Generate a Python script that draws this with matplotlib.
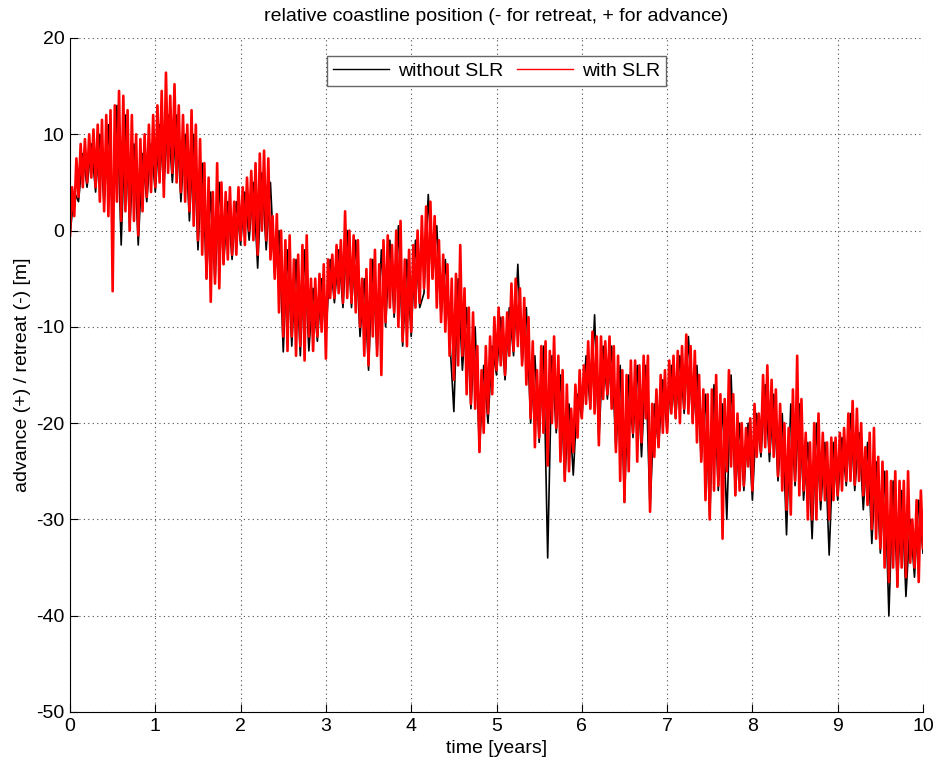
import numpy as np
import matplotlib.pyplot as plt

plt.rcParams['font.family'] = ['Liberation Sans', 'DejaVu Sans']
plt.rcParams['axes.unicode_minus'] = False

# coastline position with sea level rise, sampled every 0.025 years
with_slr = [
    -0.5, 4.5, 1.5, 7.5, 3.5, 9, 4.5, 9.5, 5, 10, 5.5, 10.5, 4.5, 11, 3, 11.5, 2, 12, 1.5, 12.5,
    -6.3, 13, 3, 14.5, 1, 14, 2, 12.5, 0, 12, 1, 10, -0.5, 9.5, 2, 10, 3.5, 11, 4, 12,
    4.5, 13, 5, 14.5, 3.5, 16.4, 6, 14, 6, 15.2, 5, 13, 4, 12, 3, 11, 2, 12.5, 0.5, 11,
    -1, 9.5, -2.5, 7, -5, 5.5, -7.4, 4, -5.5, 7, -6, 5, -3.5, 4, -3, 4.5, -2.5, 3, -2.5, 4.5,
    -1, 4.5, -1.5, 5.5, 0, 6.2, -1, 7, -2.5, 8, 0, 8.3, -1, 7.5, -3, 1.5, -5, 1.7, -8.5, 0,
    -11, -1, -12.5, -0.5, -11, -3, -13, -2.5, -12, -1.5, -13.5, -0.5, -11, -5, -12.5, -5, -11, -4.5, -10.5, -3.5,
    -13.3, -3, -7, -2.5, -7, -1.5, -6.5, -1, -7.5, 2, -7, 0, -7.5, -0.5, -8.5, -1, -10, -5, -13, -4,
    -14, -3, -11, -2, -13, -3.5, -15, -1, -9.5, -0.5, -8, -1.5, -8.5, 0, -10, 1, -11.5, -3, -12, -2,
    -10.5, -1.5, -8, 0, -7.5, 1.5, -6, 2.5, -7, 3, -5, 1.5, -8, -1, -9.5, -2.5, -10.5, -3.5, -13, -5,
    -15.5, -4.5, -14, -1.5, -13, -6, -17, -8, -18, -8.5, -18.5, -12, -23, -14.5, -21, -12, -19, -11, -17, -9,
    -14.5, -8, -14, -9, -15, -8.5, -13, -5.5, -12.5, -5, -12, -6, -14, -7, -16, -9, -19.5, -11.5, -22.5, -14.5,
    -21.5, -12, -21, -11.5, -24.4, -12.5, -20, -11, -20.5, -13, -24, -14.5, -26, -16, -25, -18.5, -23, -16, -21.5, -14.5,
    -19.5, -14, -18, -11.5, -18.5, -10.5, -19, -11, -22.3, -11, -17.5, -11.5, -17, -11, -18.5, -12, -23, -13, -26, -14.5,
    -28.2, -15, -25, -13.5, -21, -13.5, -24, -14, -22, -13, -19.5, -13, -29.2, -18, -23.5, -16.5, -22.5, -15, -21, -14.5,
    -21, -13.5, -19, -13, -19.5, -12.5, -20, -12, -18.5, -10.8, -19, -12, -20, -12.5, -22, -15, -24, -16.5, -28, -17,
    -30, -16.5, -27, -15, -26.5, -17, -32, -17.5, -25, -14.5, -24.5, -17, -27.5, -19, -27, -20, -26.5, -20.5, -24.5, -19.5,
    -27, -18, -23.5, -19, -23, -15, -22.5, -14, -23, -15.5, -23.5, -16.5, -25.5, -18, -27, -20, -29, -20.5, -29.5, -16.5,
    -26, -13, -27.5, -17.5, -27, -21, -30, -22, -30, -20, -30, -19, -28, -21, -28, -22, -30, -21.5, -28, -21.5,
    -27.5, -21, -27, -20.5, -26, -19, -26, -17.7, -26.4, -18.5, -26, -20, -27.5, -22.5, -28.5, -21, -31, -20.5, -32, -23.5,
    -33, -24, -35, -25, -36.5, -26, -35, -25, -37, -26, -35, -26, -36, -25, -34.5, -30, -35, -28, -36.5, -27,
    -33,
]

# coastline position without sea level rise, sampled every 0.05 years
without_slr = [
    -0.5, 4, 3, 8, 4.5, 9, 4, 10, 2.5, 11,
    1, 13, -1.5, 12, 0, 9, -1.5, 8, 3, 9,
    4, 11, 4.5, 12, 5, 12, 3, 10, 1, 10,
    -2, 7, -5, 4, -5.5, 5, -3.5, 3, -3, 3,
    -1.5, 4, -1, 5, -3.9, 6, -2, 5, -4.5, 0,
    -12.6, -2, -12, -3, -13, -2, -12.5, -6, -11.5, -5,
    -11, -3, -7.5, -2, -8, 0, -8, -1, -11, -5,
    -14.5, -3, -13, -2, -10, -1, -9, 0.5, -12, -3,
    -11, -1, -8, -6.5, 3.75, -5, 0.5, -9, -3, -11,
    -18.8, -5, -14.5, -8, -18.5, -10, -23, -14, -20, -12,
    -15, -9, -15.5, -8, -13, -3.5, -14, -8, -20, -13,
    -22, -12, -34, -13, -21, -15, -26, -18, -25.4, -17,
    -19.5, -13, -18.5, -8.75, -22, -12, -17.5, -12, -23, -14,
    -28.2, -15, -21.5, -14, -23.5, -14, -29.2, -18, -22.5, -15.5,
    -21, -14, -19.5, -13, -19, -11, -20, -14, -24, -17,
    -30, -16, -27, -18, -30, -15, -27.5, -20, -27, -20,
    -28, -19, -23.5, -16, -24, -17, -26, -19, -31.6, -18,
    -26.5, -18, -28, -22, -32, -20, -29, -22, -33.7, -22,
    -28, -21.5, -26.5, -19, -27, -21, -29, -22, -32.5, -24,
    -33.5, -25, -40, -26, -37, -27, -38, -30, -36, -28,
    -33.5,
]

t_with = np.linspace(0, 10, len(with_slr))
t_without = np.linspace(0, 10, len(without_slr))

fig = plt.figure(figsize=(9.39, 7.67), dpi=100)
ax = fig.add_axes([70 / 939, 55 / 767, 853 / 939, 674 / 767])

ax.plot(t_without, without_slr, color='black', lw=1.2, label='without SLR')
ax.plot(t_with, with_slr, color='red', lw=1.9, label='with SLR')

ax.set_xlim(0, 10)
ax.set_ylim(-50, 20)
ax.set_xticks(np.arange(0, 11, 1))
ax.set_yticks(np.arange(-50, 21, 10))
ax.grid(True, linestyle=(0, (1, 3)), color='0.3', linewidth=0.8)
ax.tick_params(direction='in', labelsize=14, length=6, width=0.8, pad=4)
ax.spines['top'].set_visible(False)
ax.spines['right'].set_visible(False)
for side in ('left', 'bottom'):
    ax.spines[side].set_linewidth(0.8)

ax.set_title('relative coastline position (- for retreat, + for advance)', fontsize=14, pad=12)
ax.set_xlabel('time [years]', fontsize=14, labelpad=4)
ax.set_ylabel('advance (+) / retreat (-) [m]', fontsize=14, labelpad=4)

leg = ax.legend(loc='upper center', bbox_to_anchor=(0.5, 0.987), ncol=2, fontsize=14,
                fancybox=False, framealpha=1, edgecolor='#666666', handlelength=2.9,
                columnspacing=0.7, handletextpad=0.45, borderpad=0.3)
leg.get_frame().set_linewidth(1.0)
for line in leg.get_lines():
    line.set_linewidth(1.0)

fig.savefig('out.png', dpi=100)
